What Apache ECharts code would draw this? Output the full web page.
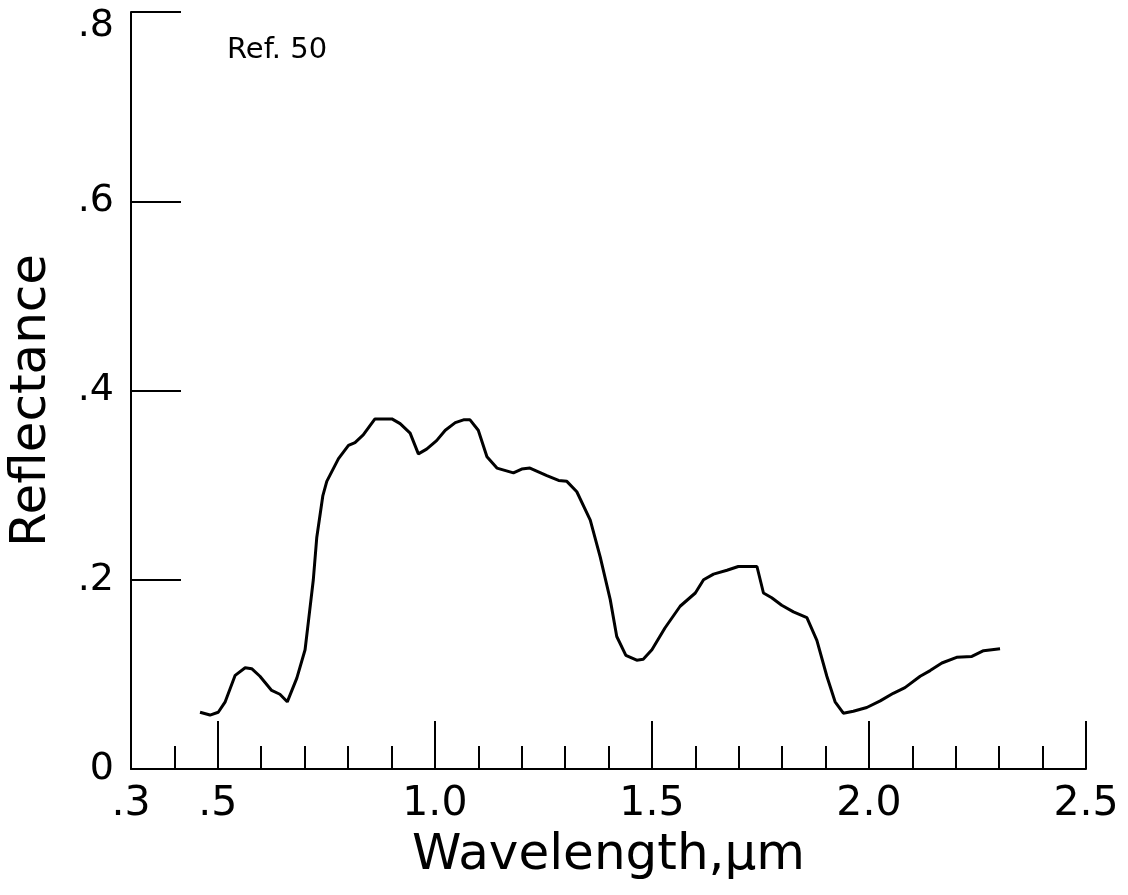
<!DOCTYPE html>
<html>
<head>
<meta charset="utf-8">
<script src="https://cdn.jsdelivr.net/npm/echarts@6/dist/echarts.min.js"></script>
<style>
  html, body { margin: 0; padding: 0; background: #fff; }
  #chart { width: 1128px; height: 895px; }
</style>
</head>
<body>
<div id="chart"></div>
<script>
// ---- Data ----
const wavelength = [
  0.459, 0.482, 0.501, 0.517, 0.540, 0.563, 0.578, 0.597, 0.624, 0.643, 0.660,
  0.682, 0.701, 0.709, 0.720, 0.728, 0.742, 0.751, 0.778, 0.801, 0.816, 0.835,
  0.862, 0.901, 0.920, 0.943, 0.962, 0.981, 1.004, 1.024, 1.047, 1.066, 1.081,
  1.100, 1.120, 1.143, 1.181, 1.200, 1.219, 1.258, 1.285, 1.304, 1.327, 1.358,
  1.381, 1.404, 1.419, 1.440, 1.465, 1.480, 1.500, 1.530, 1.565, 1.600, 1.619,
  1.642, 1.673, 1.699, 1.742, 1.757, 1.776, 1.799, 1.826, 1.857, 1.880, 1.903,
  1.922, 1.941, 1.964, 1.995, 2.026, 2.056, 2.083, 2.118, 2.141, 2.168, 2.202,
  2.237, 2.264, 2.302
];
const reflectance = [
  0.060, 0.057, 0.060, 0.071, 0.099, 0.107, 0.106, 0.098, 0.083, 0.079, 0.071,
  0.096, 0.126, 0.157, 0.200, 0.245, 0.289, 0.304, 0.328, 0.342, 0.345, 0.353,
  0.370, 0.370, 0.365, 0.355, 0.333, 0.338, 0.347, 0.358, 0.366, 0.369, 0.369,
  0.358, 0.330, 0.318, 0.313, 0.317, 0.318, 0.310, 0.305, 0.304, 0.293, 0.263,
  0.224, 0.179, 0.140, 0.120, 0.115, 0.116, 0.126, 0.149, 0.172, 0.186, 0.200,
  0.206, 0.210, 0.214, 0.214, 0.186, 0.181, 0.173, 0.166, 0.160, 0.136, 0.098,
  0.071, 0.059, 0.061, 0.065, 0.072, 0.080, 0.086, 0.098, 0.104, 0.112, 0.118,
  0.119, 0.125, 0.127
];
const xMinorTicks = [0.4, 0.6, 0.7, 0.8, 0.9, 1.1, 1.2, 1.3, 1.4, 1.6, 1.7, 1.8, 1.9, 2.1, 2.2, 2.3, 2.4];
const xMajorTicks = [0.5, 1.0, 1.5, 2.0, 2.5];
const xTickLabels = [0.3, 0.5, 1.0, 1.5, 2.0, 2.5];
const yTickValues = [0, 0.2, 0.4, 0.6, 0.8];
const xTitle = 'Wavelength,\u03bcm';
const yTitle = 'Reflectance';
const noteText = 'Ref. 50';

function fmt(v) {
  if (Math.abs(v) < 1e-9) return '0';
  if (v < 1) return '.' + Math.round(v * 10);
  return v.toFixed(1);
}
// top y label sits just below its tick, as in the reference
function fmtY(v) {
  const s = fmt(v);
  return v >= 0.8 - 1e-9 ? '{top|' + s + '}' : s;
}

const points = wavelength.map((w, i) => [w, reflectance[i]]);

const chart = echarts.init(document.getElementById('chart'), null, { renderer: 'canvas' });
const FONT = 'DejaVu Sans';

chart.setOption({
  animation: false,
  backgroundColor: '#ffffff',
  grid: { left: 131, right: 42, top: 12, bottom: 126, containLabel: false, outerBoundsMode: 'none' },
  xAxis: [
    {
      type: 'value', min: 0.3, max: 2.5, position: 'bottom', offset: 0,
      axisLine: { show: true, onZero: false, lineStyle: { color: '#000', width: 2 } },
      axisTick: { show: true, inside: true, length: 23, customValues: xMinorTicks,
                  lineStyle: { color: '#000', width: 2 } },
      axisLabel: { show: true, customValues: xTickLabels, formatter: fmt, margin: 15,
                   color: '#000', fontFamily: FONT, fontSize: 41, fontWeight: 'normal' },
      splitLine: { show: false },
      name: xTitle, nameLocation: 'middle', nameGap: 62,
      nameTextStyle: { color: '#000', fontFamily: FONT, fontSize: 50, fontWeight: 'normal' }
    },
    {
      type: 'value', min: 0.3, max: 2.5, position: 'bottom', offset: 0,
      axisLine: { show: false, onZero: false },
      axisTick: { show: true, inside: true, length: 48, customValues: xMajorTicks,
                  lineStyle: { color: '#000', width: 2 } },
      axisLabel: { show: false },
      splitLine: { show: false }
    }
  ],
  yAxis: {
    type: 'value', min: 0, max: 0.8, interval: 0.2,
    axisLine: { show: true, onZero: false, lineStyle: { color: '#000', width: 2 } },
    axisTick: { show: true, inside: true, length: 50, customValues: yTickValues,
                lineStyle: { color: '#000', width: 2 } },
    axisLabel: { show: true, customValues: yTickValues, formatter: fmtY, margin: 17,
                 color: '#000', fontFamily: FONT, fontSize: 38, fontWeight: 'normal',
                 rich: { top: { fontFamily: FONT, fontSize: 38, color: '#000', padding: [28, 0, 0, 0] } } },
    splitLine: { show: false },
    name: yTitle, nameLocation: 'middle', nameGap: 74, nameRotate: 90,
    nameTextStyle: { color: '#000', fontFamily: FONT, fontSize: 50, fontWeight: 'normal',
                     padding: [0, 20, 0, 0] }
  },
  graphic: [
    {
      type: 'text', left: 227, top: 36,
      style: { text: noteText, fill: '#000', font: 'normal 29px "DejaVu Sans"' }
    }
  ],
  series: [
    {
      type: 'line', xAxisIndex: 0, yAxisIndex: 0,
      data: points, showSymbol: false, symbol: 'none',
      lineStyle: { color: '#000', width: 3 },
      smooth: false
    }
  ]
});
</script>
</body>
</html>
